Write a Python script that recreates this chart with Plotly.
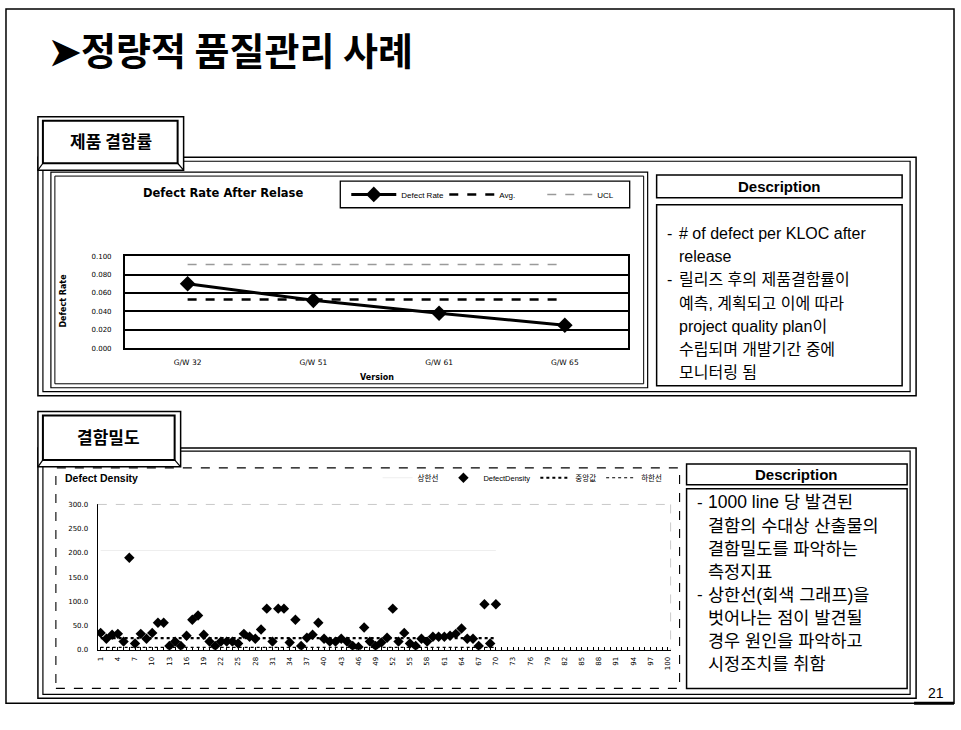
import plotly.graph_objects as go

W, H = 961, 730

# ---------------- data ----------------
versions = ["G/W 32", "G/W 51", "G/W 61", "G/W 65"]
defect_rate = [0.070, 0.052, 0.038, 0.025]
avg_rate = [0.053, 0.053, 0.053, 0.053]
ucl_rate = [0.091, 0.091, 0.091, 0.091]
rate_ticks = [0.0, 0.02, 0.04, 0.06, 0.08, 0.10]

items = list(range(1, 71))
density = [35, 23, 31, 33, 17, 190, 13, 33, 23, 35,
           56, 56, 8, 17, 8, 29, 62, 71, 31, 17,
           8, 17, 17, 17, 13, 33, 27, 23, 42, 85,
           17, 85, 85, 15, 62, 8, 25, 31, 56, 23,
           17, 17, 23, 17, 8, 6, 46, 17, 8, 15,
           25, 85, 17, 35, 13, 8, 23, 17, 27, 27,
           27, 29, 33, 44, 23, 23, 8, 94, 13, 94]
upper = [205] * 70
median = [24] * 70
lower = [5] * 70
density_ticks = [0, 50, 100, 150, 200, 250, 300]
item_ticks = list(range(1, 101, 3))

title = "➤정량적 품질관리 사례"
tab1 = "제품 결함률"
tab2 = "결함밀도"
desc1 = [("- ", "# of defect per KLOC after"), ("", "release"),
         ("- ", "릴리즈 후의 제품결함률이"), ("", "예측, 계획되고 이에 따라"),
         ("", "project quality plan이"), ("", "수립되며 개발기간 중에"),
         ("", "모니터링 됨")]
desc2 = [("- ", "1000 line 당 발견된"), ("", "결함의 수대상 산출물의"),
         ("", "결함밀도를 파악하는"), ("", "측정지표"),
         ("- ", "상한선(회색 그래프)을"), ("", "벗어나는 점이 발견될"),
         ("", "경우 원인을 파악하고"), ("", "시정조치를 취함")]

LAT = "Liberation Sans, Arial, sans-serif"
DJ = "DejaVu Sans, sans-serif"
KR = "Noto Sans CJK KR, Liberation Sans, sans-serif"
MIX = "Liberation Sans, Noto Sans CJK KR, sans-serif"


def px(x):
    return x / W


def py(y):
    return 1 - y / H


fig = go.Figure()

# ---------------- chart 1 ----------------
fig.add_trace(go.Scatter(x=versions, y=defect_rate, name="Defect Rate", mode="lines+markers",
                         line=dict(color="black", width=3),
                         marker=dict(symbol="diamond", size=12, color="black"),
                         xaxis="x", yaxis="y", legend="legend"))
fig.add_trace(go.Scatter(x=versions, y=avg_rate, name="Avg.", mode="lines",
                         line=dict(color="black", width=2.5, dash="dash"),
                         xaxis="x", yaxis="y", legend="legend"))
fig.add_trace(go.Scatter(x=versions, y=ucl_rate, name="UCL", mode="lines",
                         line=dict(color="#9a9a9a", width=1.5, dash="dash"),
                         xaxis="x", yaxis="y", legend="legend"))

# ---------------- chart 2 ----------------
fig.add_trace(go.Scatter(x=items, y=upper, name="상한선", mode="lines",
                         line=dict(color="rgba(0,0,0,0.07)", width=1),
                         xaxis="x2", yaxis="y2", legend="legend2"))
fig.add_trace(go.Scatter(x=items, y=density, name="DefectDensity", mode="markers",
                         marker=dict(symbol="diamond", size=8, color="black"),
                         xaxis="x2", yaxis="y2", legend="legend2"))
fig.add_trace(go.Scatter(x=items, y=median, name="중앙값", mode="lines",
                         line=dict(color="black", width=2.2, dash="dot"),
                         xaxis="x2", yaxis="y2", legend="legend2"))
fig.add_trace(go.Scatter(x=items, y=lower, name="하한선", mode="lines",
                         line=dict(color="black", width=1.2, dash="dot"),
                         xaxis="x2", yaxis="y2", legend="legend2"))

# ---------------- shapes ----------------
shapes = []


def rect(x0, y0, x1, y1, w=1.2, dash="solid", fill="rgba(0,0,0,0)", color="black"):
    shapes.append(dict(type="rect", xref="paper", yref="paper",
                       x0=px(x0), x1=px(x1), y0=py(y1), y1=py(y0),
                       line=dict(color=color, width=w, dash=dash), fillcolor=fill))


def line(x0, y0, x1, y1, w=1.2, dash="solid", color="black"):
    shapes.append(dict(type="line", xref="paper", yref="paper",
                       x0=px(x0), x1=px(x1), y0=py(y0), y1=py(y1),
                       line=dict(color=color, width=w, dash=dash)))


# slide frame
rect(5, 5, 955, 707, w=1.5)
line(915, 707, 955, 707, w=3)

# panel 1
rect(37, 155, 917, 396, w=1.5)
rect(42, 159, 911, 392, w=1.2)
rect(50, 170, 648, 388, w=1.2)
rect(54, 174, 644, 384, w=1)
rect(657, 173, 903, 196, w=1.5)
rect(657, 203, 903, 386, w=1.5)
rect(340, 179, 630, 206, w=1.3)
# tab 1
rect(37, 114, 183, 168, w=1.5, fill="white")
rect(42, 118, 177, 161, w=2)
line(37, 168, 42, 161)
line(183, 168, 177, 161)

# panel 2
rect(37, 449, 917, 702, w=1.5)
rect(42, 452, 911, 698, w=1.2)
rect(55, 469, 680, 692, w=1.1, dash="dash")
rect(687, 465, 908, 486, w=1.5)
rect(687, 490, 908, 692, w=1.5)
# tab 2
rect(37, 412, 180, 468, w=1.5, fill="white")
rect(42, 416, 174, 461, w=2)
line(37, 468, 42, 461)
line(180, 468, 174, 461)

# faint dashed border of the density plot area (top and right)
line(97, 506, 671, 506, w=0.8, dash="dash", color="#bbbbbb")
line(671, 506, 671, 653, w=0.8, dash="dash", color="#bbbbbb")

# ---------------- annotations ----------------
ann = []


def text(x, y, s, size, family=MIX, bold=False, xanchor="left", angle=0, color="black"):
    ann.append(dict(x=px(x), y=py(y), xref="paper", yref="paper", showarrow=False,
                    text=f"<b>{s}</b>" if bold else s, xanchor=xanchor, yanchor="middle",
                    textangle=angle, font=dict(size=size, family=family, color=color)))


text(46, 45, title, 38, family=KR, bold=True)
text(110, 138, tab1, 17, family=KR, bold=True, xanchor="center")
text(108, 437, tab2, 17, family=KR, bold=True, xanchor="center")

text(222, 191, "Defect Rate After Relase", 11.5, family=DJ, bold=True, xanchor="center")
text(63, 300, "Defect Rate", 8, family=DJ, bold=True, xanchor="center", angle=-90)
text(377, 378, "Version", 8, family=DJ, bold=True, xanchor="center")
text(62, 479, "Defect Density", 10.5, family=LAT, bold=True)

text(780, 185, "Description", 15, family=LAT, bold=True, xanchor="center")
text(797, 476, "Description", 15, family=LAT, bold=True, xanchor="center")

for i, (d, s) in enumerate(desc1):
    yy = 232 + i * 23.5
    if d:
        text(665, yy, "-", 16)
    text(677, yy, s, 16)

for i, (d, s) in enumerate(desc2):
    yy = 504 + i * 23.3
    if d:
        text(695, yy, "-", 17)
    text(706, yy, s, 17.5)

text(937, 697, "21", 14, family=LAT, xanchor="center")

fig.update_layout(
    width=W, height=H, margin=dict(l=0, r=0, t=0, b=0),
    paper_bgcolor="white", plot_bgcolor="white",
    shapes=shapes, annotations=ann,
    xaxis=dict(domain=[px(124), px(628)], type="category", range=[-0.5, 3.5],
               showline=True, mirror=True, linecolor="black", linewidth=1.5,
               showgrid=False, ticks="", ticklabelstandoff=6,
               tickfont=dict(size=7.5, family=DJ, color="black"), anchor="y"),
    yaxis=dict(domain=[py(348), py(255)], range=[0, 0.1], tickvals=rate_ticks,
               tickformat=".3f", showline=True, mirror=True, linecolor="black",
               linewidth=1.5, showgrid=True, gridcolor="black", gridwidth=1.5,
               zeroline=False, ticks="", ticklabelstandoff=10,
               tickfont=dict(size=7, family=DJ, color="black"), anchor="x"),
    xaxis2=dict(domain=[px(97), px(671)], range=[0.5, 100.5], tickvals=item_ticks,
                tickangle=-90, showline=True, linecolor="black", linewidth=1.3,
                mirror=False, showgrid=False, zeroline=False,
                ticks="inside", ticklen=3, tickcolor="black",
                minor=dict(tick0=1, dtick=1, ticks="inside", ticklen=3, tickcolor="black"),
                ticklabelstandoff=3,
                tickfont=dict(size=7, family=DJ, color="black"), anchor="y2"),
    yaxis2=dict(domain=[py(653), py(506)], range=[0, 300], tickvals=density_ticks,
                tickformat=".1f", showline=True, linecolor="black", linewidth=1.3,
                showgrid=False, zeroline=False, ticks="", ticklabelstandoff=7,
                tickfont=dict(size=7, family=DJ, color="black"), anchor="x2"),
    legend=dict(orientation="h", x=px(346), y=py(192.5), xanchor="left", yanchor="middle",
                bgcolor="rgba(0,0,0,0)", borderwidth=0, itemwidth=45,
                entrywidth=38, font=dict(size=8, family=LAT, color="black")),
    legend2=dict(orientation="h", x=px(668), y=py(479), xanchor="right", yanchor="middle",
                 bgcolor="rgba(0,0,0,0)", borderwidth=0, itemwidth=30,
                 font=dict(size=7.5, family=MIX, color="black")),
)

fig.write_html("out.html")
